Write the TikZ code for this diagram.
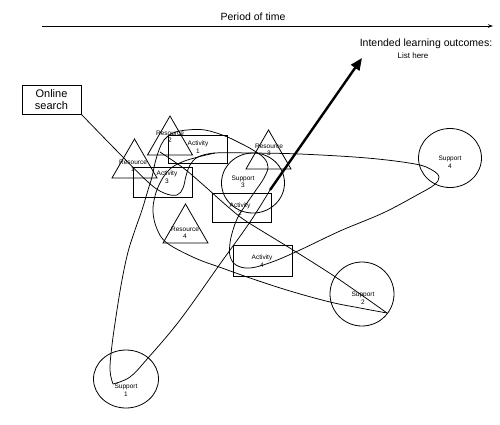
\documentclass[tikz,border=0pt]{standalone}
\usepackage{fontspec}
\setmainfont{Liberation Sans}
\usetikzlibrary{shapes.geometric,arrows.meta}
\begin{document}
\begin{tikzpicture}[x=1pt,y=-1pt,
  curve/.style={line width=0.75pt, line join=round},
  actbox/.style={draw, line width=0.85pt, minimum width=59pt, minimum height=29pt, inner sep=0pt},
  restri/.style={draw, line width=0.8pt, regular polygon, regular polygon sides=3, minimum size=52pt, inner sep=0pt},
  supcirc/.style={draw, line width=0.8pt, ellipse, minimum width=64pt, minimum height=60pt, inner sep=0pt},
  lbl/.style={font=\fontsize{6.5}{7.5}\selectfont, align=center, inner sep=0pt},
]
\useasboundingbox (0,0) rectangle (500,424);

% time line
\coordinate (t0) at (42,26);
\coordinate (t1) at (493,26);
\draw[line width=0.8pt, -{Stealth[length=5pt,width=3.5pt]}] (t0) -- (t1);
\node[font=\fontsize{10.5}{12}\selectfont, inner sep=0pt] (period) at (253,17) {Period of time};
\node[font=\fontsize{10.5}{12}\selectfont, inner sep=0pt] (ilo) at (426,44) {Intended learning outcomes:};
\node[font=\fontsize{8}{9}\selectfont, inner sep=0pt] (list) at (413,56) {List here};

% online search
\node[actbox, minimum height=29pt, font=\fontsize{11}{12}\selectfont, align=center] (os) at (51.5,99.5) {Online\\search};

% activities
\node[actbox, minimum height=28pt] (a1) at (198,149) {};
\node[lbl] (a1t) at (198,147) {Activity\\1};
\node[actbox, minimum height=30pt] (a3) at (162.5,182) {};
\node[lbl] (a3t) at (167,177) {Activity\\3};
\node[actbox] (a2) at (241.5,207.5) {};
\node[lbl] (a2t) at (240,209) {Activity\\2};
\node[actbox, minimum height=31pt] (a4) at (262.5,260.5) {};
\node[lbl] (a4t) at (262,261) {Activity\\4};

% resources
\node[restri] (r2) at (170,142) {};
\node[lbl] (r2t) at (170,137) {Resource\\2};
\node[restri] (r1) at (134.5,165) {};
\node[lbl] (r1t) at (133,166) {Resource\\1};
\node[restri] (r3) at (268.5,156) {};
\node[lbl] (r3t) at (269,150) {Resource\\3};
\node[restri] (r4) at (185.5,230) {};
\node[lbl] (r4t) at (185,233) {Resource\\4};

% supports
\node[supcirc, minimum width=63pt, minimum height=60pt] (s3) at (253,183) {};
\node[lbl] (s3t) at (243,182) {Support\\3};
\node[supcirc, minimum width=63pt, minimum height=59pt] (s4) at (450,158) {};
\node[lbl] (s4t) at (450,162) {Support\\4};
\node[supcirc, minimum width=64pt, minimum height=64pt] (s2) at (362,294) {};
\node[lbl] (s2t) at (363,298) {Support\\2};
\node[supcirc, minimum width=65pt, minimum height=58pt] (s1) at (126,379) {};
\node[lbl] (s1t) at (126,390) {Support\\1};

% main learning path
\draw[curve] plot[smooth, tension=0.6] coordinates {(os.south east) (115,149) (148,182) (164,193) (177,195) (183,188) (186,176) (190,165) (198,157) (215,153) (250,153) (300,154) (367,158) (415,164) (432,170) (439,177) (434,185) (417,195) (383,213) (340,231) (300,250) (272,262) (250,268) (236,265) (230,256) (230,243) (233,230) (238,217) (247,203) (256,190) (264,178) (268,167) (264,158) (253,150) (240,143) (225,136) (205,130) (187,130) (173,133) (164,140) (159,150) (155,163) (152,177) (148,190) (142,210) (135,230) (128,252) (122,280) (117,310) (112,345) (110,370) (113,384)};
\coordinate (turn) at (270,190);
\coordinate (goal) at (362,58);
\draw[curve] plot[smooth, tension=0.6] coordinates {(113,384) (130,377) (148,358) (180,320) (220,264) (250,222) (turn)};
\draw[line width=2.4pt, -{Triangle[length=12pt,width=10pt]}] (turn) -- (goal);

% loop through support 2
\draw[curve] plot[smooth, tension=0.6] coordinates {(215,153) (198,157) (182,162) (170,169) (161,181) (155,196) (153,212) (157,229) (167,243) (195,258) (222,268) (253,279) (290,291) (330,302) (360,308) (387,313)};
\draw[curve] plot[smooth, tension=0.6] coordinates {(387,313) (337,278) (293,250) (262,231) (243,219) (227,206) (200,182) (182,167) (160,152)};
\end{tikzpicture}
\end{document}
